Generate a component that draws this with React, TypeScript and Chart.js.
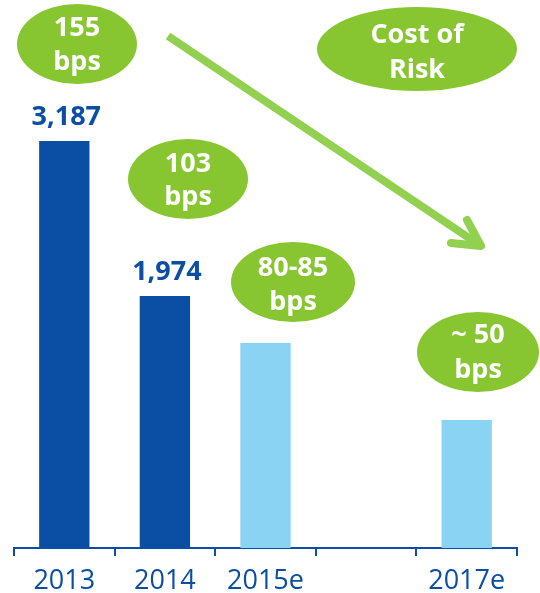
import React, { useEffect, useRef } from "react";
import { Chart, registerables } from "chart.js";

Chart.register(...registerables);

const categories = ["2013", "2014", "2015e", "", "2017e"];
const provisions: (number | null)[] = [3187, 1974, 1605, null, 1002];
const showValue = [true, true, false, false, false];
const barColors = ["#0a4fa3", "#0a4fa3", "#8bd3f3", "#8bd3f3", "#8bd3f3"];
const costOfRisk = [
  ["155", "bps"],
  ["103", "bps"],
  ["80-85", "bps"],
  ["~ 50", "bps"],
  ["Cost of", "Risk"],
];

const BLUE = "#0b4ea2";
const GREEN = "#87c531";
const ARROW = "#92d050";
const FONT = "'Open Sans'";

const overlay = {
  id: "overlay",
  afterDatasetsDraw(chart: any) {
    const ctx = chart.ctx;
    const meta = chart.getDatasetMeta(0);
    ctx.save();
    // value labels
    ctx.fillStyle = BLUE;
    ctx.font = `bold 27px ${FONT}`;
    ctx.textAlign = "center";
    ctx.textBaseline = "alphabetic";
    meta.data.forEach((bar: any, i: number) => {
      if (!showValue[i] || provisions[i] == null) return;
      ctx.fillText((provisions[i] as number).toLocaleString("en-US"), bar.x + 2, bar.y - 16);
    });

    // arrow
    ctx.strokeStyle = ARROW;
    ctx.lineWidth = 8;
    ctx.lineCap = "butt";
    ctx.beginPath();
    ctx.moveTo(168, 36);
    ctx.lineTo(478, 244);
    ctx.stroke();
    ctx.lineCap = "round";
    ctx.lineJoin = "round";
    ctx.beginPath();
    ctx.moveTo(467, 220);
    ctx.lineTo(481, 246);
    ctx.lineTo(451, 243);
    ctx.stroke();

    // ellipses
    const ells = [
      { cx: 77, cy: 44, rx: 60, ry: 40, t: costOfRisk[0], y1: -8, y2: 26 },
      { cx: 188, cy: 179, rx: 60, ry: 40, t: costOfRisk[1], y1: -7, y2: 26 },
      { cx: 293, cy: 282, rx: 62, ry: 40, t: costOfRisk[2], y1: -6, y2: 28 },
      { cx: 478, cy: 352, rx: 61, ry: 40, t: costOfRisk[3], y1: -9, y2: 26 },
      { cx: 417, cy: 49, rx: 100, ry: 42, t: costOfRisk[4], y1: -6, y2: 29 },
    ];
    ells.forEach((e) => {
      ctx.fillStyle = GREEN;
      ctx.beginPath();
      ctx.ellipse(e.cx, e.cy, e.rx, e.ry, 0, 0, Math.PI * 2);
      ctx.fill();
      ctx.fillStyle = "#ffffff";
      ctx.font = `bold 27px ${FONT}`;
      ctx.fillText(e.t[0], e.cx, e.cy + e.y1);
      ctx.fillText(e.t[1], e.cx, e.cy + e.y2);
    });
    ctx.restore();
  },
};

export default function App() {
  const ref = useRef<HTMLCanvasElement>(null);
  useEffect(() => {
    if (!ref.current) return;
    const chart = new Chart(ref.current, {
      type: "bar",
      data: {
        labels: categories,
        datasets: [
          {
            data: provisions,
            backgroundColor: barColors,
            barPercentage: 0.5,
            categoryPercentage: 1,
          },
        ],
      },
      options: {
        animation: false,
        responsive: false,
        layout: { padding: { left: 14, right: 23, top: 0, bottom: 0 } },
        plugins: { legend: { display: false }, tooltip: { enabled: false } },
        scales: {
          x: {
            afterFit: (s: any) => {
              s.height = 45;
            },
            border: { display: true, color: BLUE, width: 2 },
            grid: {
              display: true,
              drawOnChartArea: false,
              drawTicks: true,
              tickLength: 8,
              color: BLUE,
              lineWidth: 2,
              offset: true,
            },
            ticks: {
              color: BLUE,
              padding: 9,
              font: { family: FONT, size: 27 },
              maxRotation: 0,
              autoSkip: false,
            },
          },
          y: { display: false, min: 0, max: 4291 },
        },
      },
      plugins: [overlay],
    });
    return () => chart.destroy();
  }, []);
  return (
    <div style={{ position: "absolute", left: 0, top: 0, width: 540, height: 593, background: "#fff" }}>
      <canvas ref={ref} width={540} height={593} />
    </div>
  );
}
